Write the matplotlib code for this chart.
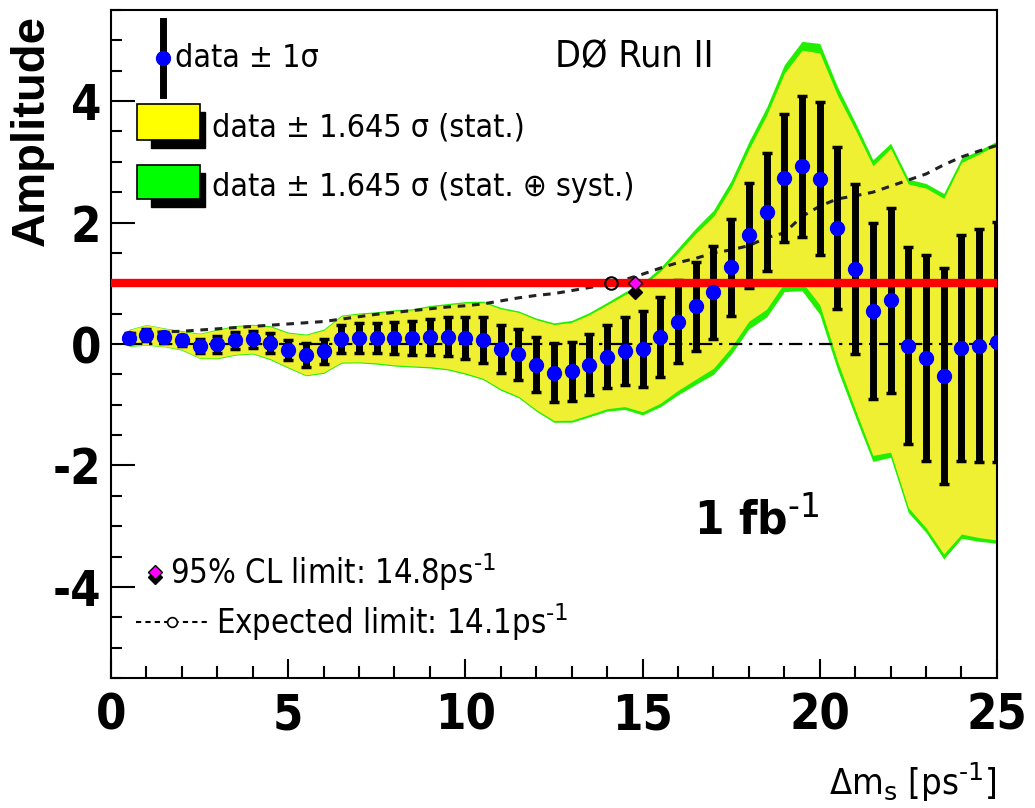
import matplotlib
matplotlib.use("Agg")
import matplotlib.pyplot as plt
from matplotlib import font_manager
from matplotlib.patches import Rectangle
from matplotlib.ticker import MultipleLocator
import numpy as np

# look for a narrow sans font, the original uses a condensed Helvetica
fonts = font_manager.fontManager.ttflist
names = {f.name for f in fonts}
STRETCH = 'normal'
if any(f.name == 'DejaVu Sans' and f.stretch == 'condensed' for f in fonts):
    NARROW, SC, STRETCH = 'DejaVu Sans', 1.0, 'condensed'
elif 'Liberation Sans Narrow' in names:
    NARROW, SC = 'Liberation Sans Narrow', 1.1
else:
    NARROW, SC = 'Liberation Sans', 0.95
FAM = [NARROW, 'DejaVu Sans']

plt.rcParams['axes.unicode_minus'] = False
plt.rcParams['mathtext.fontset'] = 'custom'
plt.rcParams['mathtext.rm'] = NARROW
plt.rcParams['mathtext.it'] = NARROW + ':italic'
plt.rcParams['mathtext.bf'] = NARROW + ':bold'

# data: amplitude scan
dms = [0.5, 1.0, 1.5, 2.0, 2.5, 3.0, 3.5, 4.0, 4.5, 5.0,
       5.5, 6.0, 6.5, 7.0, 7.5, 8.0, 8.5, 9.0, 9.5, 10.0,
       10.5, 11.0, 11.5, 12.0, 12.5, 13.0, 13.5, 14.0, 14.5, 15.0,
       15.5, 16.0, 16.5, 17.0, 17.5, 18.0, 18.5, 19.0, 19.5, 20.0,
       20.5, 21.0, 21.5, 22.0, 22.5, 23.0, 23.5, 24.0, 24.5, 25.0]
amp = [0.10, 0.15, 0.11, 0.06, -0.03, 0.00, 0.06, 0.08, 0.02, -0.10,
       -0.18, -0.12, 0.08, 0.10, 0.10, 0.10, 0.10, 0.12, 0.12, 0.10,
       0.06, -0.08, -0.17, -0.34, -0.47, -0.45, -0.34, -0.21, -0.11, -0.08,
       0.11, 0.37, 0.62, 0.85, 1.26, 1.79, 2.17, 2.73, 2.93, 2.72,
       1.91, 1.23, 0.55, 0.72, -0.03, -0.23, -0.53, -0.07, -0.03, 0.03]
err = [0.08, 0.10, 0.09, 0.09, 0.12, 0.14, 0.14, 0.14, 0.16, 0.17,
       0.20, 0.21, 0.23, 0.24, 0.25, 0.27, 0.28, 0.30, 0.32, 0.35,
       0.38, 0.40, 0.42, 0.45, 0.48, 0.49, 0.50, 0.52, 0.56, 0.63,
       0.66, 0.69, 0.73, 0.76, 0.80, 0.86, 0.97, 1.05, 1.16, 1.26,
       1.33, 1.40, 1.45, 1.52, 1.62, 1.70, 1.78, 1.86, 1.92, 1.98]
syst = [0.03, 0.03, 0.03, 0.04, 0.04, 0.05, 0.05, 0.05, 0.06, 0.06,
        0.06, 0.07, 0.07, 0.07, 0.08, 0.08, 0.08, 0.09, 0.09, 0.10,
        0.10, 0.11, 0.11, 0.12, 0.13, 0.14, 0.15, 0.16, 0.18, 0.20,
        0.22, 0.25, 0.28, 0.31, 0.34, 0.37, 0.40, 0.43, 0.46, 0.50,
        0.48, 0.45, 0.42, 0.40, 0.40, 0.40, 0.42, 0.40, 0.38, 0.36]
# expected sensitivity curve (1.645 sigma), dashed
sens = [0.17, 0.19, 0.20, 0.21, 0.23, 0.25, 0.27, 0.29, 0.31, 0.33,
        0.35, 0.37, 0.41, 0.45, 0.49, 0.52, 0.55, 0.58, 0.61, 0.63,
        0.66, 0.71, 0.76, 0.80, 0.83, 0.88, 0.93, 0.98, 1.06, 1.15,
        1.25, 1.34, 1.41, 1.50, 1.55, 1.62, 1.75, 1.83, 2.10, 2.27,
        2.39, 2.44, 2.50, 2.60, 2.70, 2.80, 2.95, 3.08, 3.18, 3.27]
cl_limit = 14.8
exp_limit = 14.1

x = np.array(dms)
a = np.array(amp)
s = np.array(err)
st = np.sqrt(s**2 + np.array(syst)**2)

fig = plt.figure(figsize=(10.35, 8.08), dpi=100)
ax = fig.add_axes([0.1072, 0.1609, 0.8560, 0.8267])

ax.fill_between(x, a - 1.645*st, a + 1.645*st, color='#22ee00', lw=0, zorder=1)
ax.fill_between(x, a - 1.645*s, a + 1.645*s, color='#f0f032', lw=0, zorder=2)

ax.plot([0.5, 25], [0, 0], color='black', lw=1.6, dashes=(6, 3, 1.5, 3), zorder=3)
ax.plot(x, sens, color='#222222', lw=2.2, dashes=(2.5, 2.2), zorder=3)

ax.errorbar(x, a, yerr=s, fmt='none', ecolor='black', elinewidth=5,
            capsize=3.5, capthick=2.5, zorder=4)
ax.axhline(1.0, color='#ff0000', lw=6, zorder=5)
ax.plot(x, a, 'o', color='#0000ff', ms=10, mec='#0000ff', zorder=6)

# limits on the red line
ax.plot(exp_limit, 1.0, 'o', ms=9, mfc='none', mec='black', mew=1.5, zorder=7)
ax.plot(cl_limit, 0.86, 'D', ms=7, color='black', zorder=7)
ax.plot(cl_limit, 1.0, 'D', ms=7, mfc='#ff00ff', mec='black', mew=1, zorder=8)

ax.set_xlim(0, 25)
ax.set_ylim(-5.5, 5.5)
ax.set_xticks([0, 5, 10, 15, 20, 25])
ax.set_yticks([-4, -2, 0, 2, 4])
ax.xaxis.set_minor_locator(MultipleLocator(1))
ax.yaxis.set_minor_locator(MultipleLocator(0.5))
ax.tick_params(axis='x', which='major', direction='in', length=14, width=1.5, pad=10)
ax.tick_params(axis='x', which='minor', direction='in', length=9, width=1.5)
ax.tick_params(axis='y', which='major', direction='in', length=17, width=1.5, pad=7)
ax.tick_params(axis='y', which='minor', direction='in', length=8, width=1.5)
for lab in ax.get_xticklabels() + ax.get_yticklabels():
    lab.set_family(FAM)
    lab.set_stretch(STRETCH)
    lab.set_fontsize(35*SC)
    lab.set_fontweight('bold')
for sp in ax.spines.values():
    sp.set_linewidth(1.5)

fig.text(0.031, 0.839, 'Amplitude', rotation=90, ha='center', va='center',
         family='Liberation Sans', fontsize=34, fontweight='bold')
fig.text(0.963, 0.016, r'Δm$_{\rm s}$ [ps$^{\text{-1}}$]', ha='right', va='baseline',
         family=FAM, stretch=STRETCH, fontsize=26*SC)

txt = dict(family=FAM, stretch=STRETCH, ha='left', va='center')

# top-left legend
tr = ax.transAxes
ax.plot([0.0587, 0.0587], [0.873, 0.983], color='black', lw=5, transform=tr, clip_on=False, zorder=9)
ax.plot([0.0587], [0.928], 'o', color='#0000ff', ms=10, transform=tr, clip_on=False, zorder=10)
ax.text(0.072, 0.928, 'data ± 1σ', transform=tr, fontsize=23*SC, **txt)

ax.add_patch(Rectangle((0.045, 0.793), 0.061, 0.054, transform=tr, color='black', zorder=9))
ax.add_patch(Rectangle((0.0293, 0.8054), 0.0711, 0.0539, transform=tr, fc='#ffff00', ec='black', lw=1.2, zorder=10))
ax.text(0.114, 0.823, 'data ± 1.645 σ (stat.)', transform=tr, fontsize=23*SC, **txt)

ax.add_patch(Rectangle((0.045, 0.705), 0.061, 0.051, transform=tr, color='black', zorder=9))
ax.add_patch(Rectangle((0.0293, 0.717), 0.0711, 0.051, transform=tr, fc='#00ff00', ec='black', lw=1.2, zorder=10))
ax.text(0.114, 0.734, 'data ± 1.645 σ (stat. ⊕ syst.)', transform=tr, fontsize=23*SC, **txt)

ax.text(0.501, 0.93, 'DØ Run II', transform=tr, fontsize=27*SC, **txt)
ax.text(0.658, 0.2365, r'1 fb$^{\mathbf{\text{-1}}}$', transform=tr, fontsize=34*SC,
        fontweight='bold', **txt)

# bottom-left legend
ax.plot([0.0497], [0.151], 'D', ms=7, color='black', transform=tr, clip_on=False, zorder=9)
ax.plot([0.0497], [0.159], 'D', ms=7, mfc='#ff00ff', mec='black', mew=1, transform=tr, clip_on=False, zorder=10)
ax.text(0.0666, 0.159, r'95% CL limit: 14.8ps$^{\text{-1}}$', transform=tr, fontsize=23.5*SC, **txt)
ax.plot([0.028, 0.111], [0.084, 0.084], color='black', lw=1.5, dashes=(2.5, 2), transform=tr, zorder=9)
ax.plot([0.069], [0.084], 'o', ms=7, mfc='white', mec='black', mew=1.2, transform=tr, zorder=10)
ax.text(0.1185, 0.084, r'Expected limit: 14.1ps$^{\text{-1}}$', transform=tr, fontsize=23.5*SC, **txt)

fig.savefig('out.png', dpi=100, facecolor='white')
